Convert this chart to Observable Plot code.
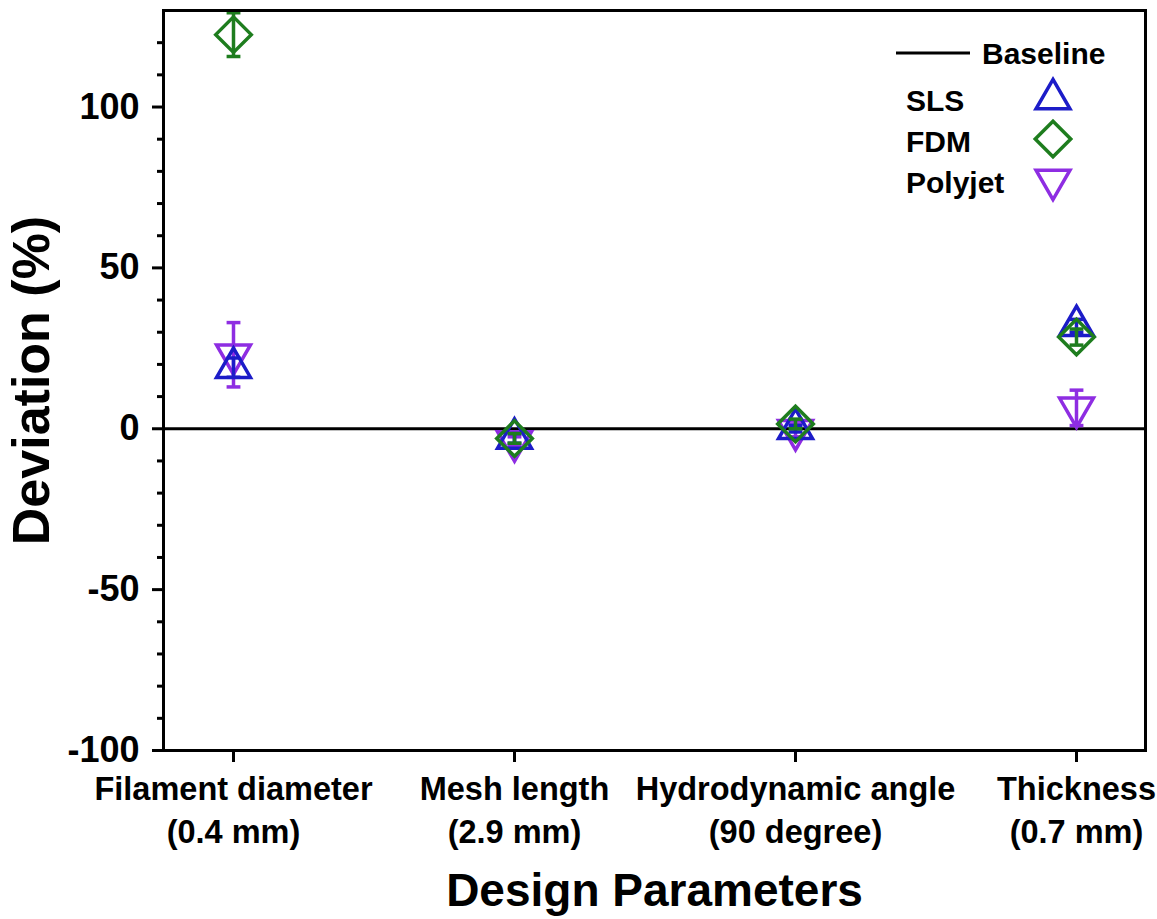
<!DOCTYPE html>
<html>
<head>
<meta charset="utf-8">
<script src="https://cdn.jsdelivr.net/npm/d3@7"></script>
<script src="https://cdn.jsdelivr.net/npm/@observablehq/plot@0.6"></script>
<style>
  html, body { margin: 0; padding: 0; background: #fff; }
  #chart svg { font-family: "Liberation Sans", Arial, sans-serif; font-weight: bold; }
  #chart g[aria-label="y-axis label"] text { font-size: 52px; }
  #chart g[aria-label="x-axis label"] text { font-size: 46px; }
</style>
</head>
<body>
<div id="chart"></div>
<script>
const categories = [
  "Filament diameter\n(0.4 mm)",
  "Mesh length\n(2.9 mm)",
  "Hydrodynamic angle\n(90 degree)",
  "Thickness\n(0.7 mm)"
];
const seriesNames = ["SLS", "FDM", "Polyjet"];
const seriesColors = ["#1c1cc8", "#1e7d1e", "#8e2de2"];
const slsValues = [19, -3, 0, 32];
const slsErrors = [3, 1.5, 1, 2];
const fdmValues = [122.5, -3, 1.5, 28.5];
const fdmErrors = [6.8, 1.5, 1.5, 2.5];
const polyjetValues = [23, -4, -0.5, 6.5];
const polyjetErrors = [10, 1.5, 2, 5.5];
const yTicks = [-100, -50, 0, 50, 100];
const yMinorTicks = [-90, -80, -70, -60, -40, -30, -20, -10, 10, 20, 30, 40, 60, 70, 80, 90, 110, 120];
const baseline = [0];

const sqrt3 = Math.sqrt(3);
const triangleDown = {
  draw(ctx, size) {
    const y = Math.sqrt(size / (sqrt3 * 3));
    ctx.moveTo(0, 2 * y);
    ctx.lineTo(-sqrt3 * y, -y);
    ctx.lineTo(sqrt3 * y, -y);
    ctx.closePath();
  }
};
const capSymbol = {
  draw(ctx, size) {
    const w = Math.sqrt(size);
    ctx.moveTo(-w, 0);
    ctx.lineTo(w, 0);
  }
};
const symbols = {SLS: d3.symbolTriangle, FDM: d3.symbolDiamond2, Polyjet: triangleDown};
const radii = {SLS: 12.6, FDM: 16, Polyjet: 12.6};

function rows(name, values, errors) {
  return categories.map((c, i) => ({series: name, cat: c, v: values[i], e: errors[i]}));
}
const seriesData = {
  SLS: rows("SLS", slsValues, slsErrors),
  FDM: rows("FDM", fdmValues, fdmErrors),
  Polyjet: rows("Polyjet", polyjetValues, polyjetErrors)
};
const colorOf = Object.fromEntries(seriesNames.map((s, i) => [s, seriesColors[i]]));
const drawOrder = ["Polyjet", "SLS", "FDM"];

const seriesMarks = drawOrder.flatMap(name => {
  const data = seriesData[name];
  const color = colorOf[name];
  return [
    Plot.ruleX(data, {x: "cat", y1: d => d.v - d.e, y2: d => d.v + d.e, stroke: color, strokeWidth: 3.5}),
    Plot.dot(data, {x: "cat", y: d => d.v + d.e, symbol: capSymbol, r: 3.9, stroke: color, strokeWidth: 3.5}),
    Plot.dot(data, {x: "cat", y: d => d.v - d.e, symbol: capSymbol, r: 3.9, stroke: color, strokeWidth: 3.5}),
    Plot.dot(data, {x: "cat", y: "v", symbol: symbols[name], r: radii[name], stroke: color, fill: "none", strokeWidth: 3.5})
  ];
});

const chart = Plot.plot({
  width: 1157,
  height: 919,
  marginLeft: 163,
  marginRight: 12,
  marginTop: 10,
  marginBottom: 169,
  style: {fontFamily: "'Liberation Sans', Arial, sans-serif", fontWeight: "bold", color: "#000", background: "#fff"},
  x: {type: "point", domain: categories, padding: 0.244},
  y: {domain: [-100, 130]},
  marks: [
    Plot.ruleY(baseline, {strokeWidth: 3}),
    ...seriesMarks,
    Plot.axisY({ticks: yTicks, tickSize: 11, tickPadding: 13, strokeWidth: 3, fontSize: 36, tickFormat: d => String(d), label: "Deviation (%)", labelAnchor: "center", labelArrow: "none", labelOffset: 151}),
    Plot.axisY({ticks: yMinorTicks, tickSize: 6, strokeWidth: 3, tickFormat: () => "", label: null}),
    Plot.axisX({tickSize: 12, tickPadding: 8, strokeWidth: 3, fontSize: 32.5, lineHeight: 1.3, label: "Design Parameters", labelAnchor: "center", labelArrow: "none", labelOffset: 155}),
    Plot.frame({strokeWidth: 3})
  ]
});
document.getElementById("chart").appendChild(chart);

// Legend (inside the frame, top-right)
const svg = d3.select(chart);
const lg = svg.append("g")
  .attr("font-family", "'Liberation Sans', Arial, sans-serif")
  .attr("font-weight", "bold")
  .attr("text-anchor", "start")
  .style("font-size", "30px");
lg.append("line").attr("x1", 896).attr("x2", 970).attr("y1", 53).attr("y2", 53).attr("stroke", "#000").attr("stroke-width", 3);
lg.append("text").attr("x", 982).attr("y", 53).attr("dy", "0.36em").text("Baseline");
const legendRows = [
  {name: "SLS", ty: 100, sy: 99},
  {name: "FDM", ty: 141, sy: 139},
  {name: "Polyjet", ty: 182, sy: 180}
];
legendRows.forEach(r => {
  lg.append("text").attr("x", 906).attr("y", r.ty).attr("dy", "0.36em").text(r.name);
  lg.append("path")
    .attr("transform", `translate(1053,${r.sy})`)
    .attr("d", d3.symbol(symbols[r.name], Math.PI * radii[r.name] ** 2)())
    .attr("fill", "none").attr("stroke", colorOf[r.name]).attr("stroke-width", 3.5);
});
</script>
</body>
</html>
